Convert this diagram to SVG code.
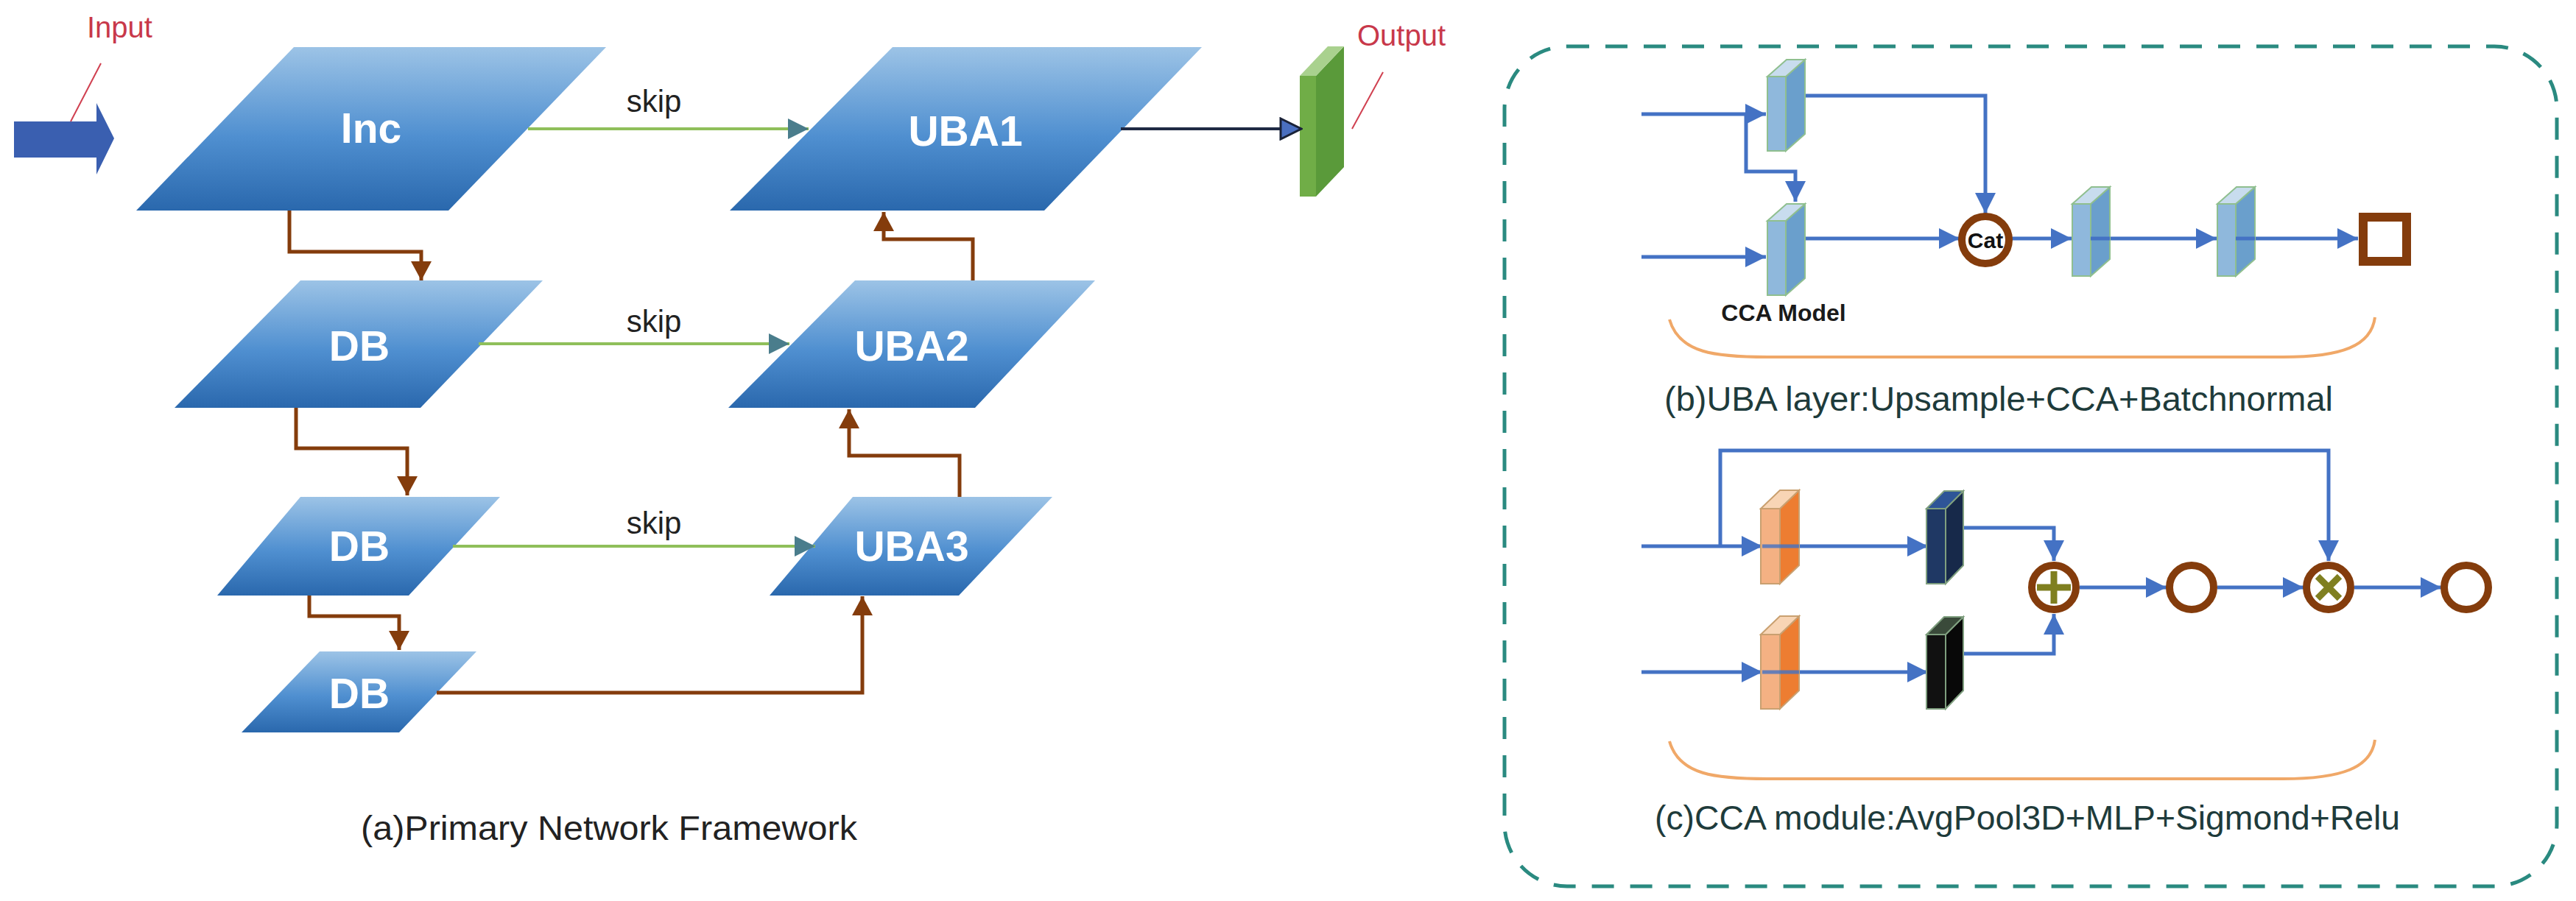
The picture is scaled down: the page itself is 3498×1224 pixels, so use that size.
<svg xmlns="http://www.w3.org/2000/svg" width="3498" height="1224" viewBox="0 0 3498 1224">
<defs>
<linearGradient id="pg" x1="0" y1="0" x2="0" y2="1"><stop offset="0" stop-color="#9cc3e6"/><stop offset="0.55" stop-color="#4f8fd0"/><stop offset="1" stop-color="#2a68ad"/></linearGradient>
<marker id="mb" markerUnits="userSpaceOnUse" markerWidth="26" markerHeight="28" refX="26" refY="14" orient="auto"><path d="M0,0 L26,14 L0,28 z" fill="#843c0c"/></marker>
<marker id="ms" markerUnits="userSpaceOnUse" markerWidth="28" markerHeight="28" refX="28" refY="14" orient="auto"><path d="M0,0 L28,14 L0,28 z" fill="#4a7d8c"/></marker>
<marker id="mo" markerUnits="userSpaceOnUse" markerWidth="32" markerHeight="32" refX="30" refY="16" orient="auto"><path d="M2,2 L30,16 L2,30 z" fill="#4a6fc0" stroke="#1a2238" stroke-width="3"/></marker>
<marker id="ml" markerUnits="userSpaceOnUse" markerWidth="28" markerHeight="28" refX="28" refY="14" orient="auto"><path d="M0,0 L28,14 L0,28 z" fill="#4472c4"/></marker>
</defs>
<style>
.pl{fill:url(#pg);}
.nt{font-family:"Liberation Sans",Arial,sans-serif;font-weight:bold;font-size:57px;fill:#fff;text-anchor:middle;}
.sk{font-family:"Liberation Sans",Arial,sans-serif;font-size:42px;fill:#222;text-anchor:middle;}
.cap{font-family:"Liberation Sans",Arial,sans-serif;font-size:46px;}
.red{font-family:"Liberation Sans",Arial,sans-serif;font-size:40px;fill:#c8384a;}
.br{fill:none;stroke:#843c0c;stroke-width:5;marker-end:url(#mb);}
.sl{fill:none;stroke:#8fbf5a;stroke-width:4;marker-end:url(#ms);}
.bl{fill:none;stroke:#4472c4;stroke-width:5;marker-end:url(#ml);}
.ring{fill:#fff;stroke:#843c0c;stroke-width:10;}
.brace{fill:none;stroke:#f0a868;stroke-width:4;}
.lbF{fill:#8fb8dc;stroke:#8fbf8f;stroke-width:2;}
.lbS{fill:#6a9fcc;stroke:#8fbf8f;stroke-width:2;}
.lbT{fill:#c8dcee;stroke:#8fbf8f;stroke-width:2;}
</style>

<g id="input">
<polygon points="19,165 131,165 131,140 155,188 131,237 131,214 19,214" fill="#3a5fb0"/>
<line x1="137" y1="86" x2="96" y2="165" stroke="#d04050" stroke-width="2"/>
<text class="red" x="118" y="51">Input</text>
</g>

<g id="inc"><polygon class="pl" points="399,64 823,64 609,286 185,286"/><text class="nt" x="504" y="194">Inc</text></g>
<g id="uba1"><polygon class="pl" points="1212,64 1632,64 1418,286 991,286"/><text class="nt" x="1311" y="198">UBA1</text></g>
<g id="db1"><polygon class="pl" points="408,381 737,381 571,554 237,554"/><text class="nt" x="488" y="490">DB</text></g>
<g id="uba2"><polygon class="pl" points="1161,381 1487,381 1324,554 989,554"/><text class="nt" x="1238" y="490">UBA2</text></g>
<g id="db2"><polygon class="pl" points="408,675 679,675 555,809 295,809"/><text class="nt" x="488" y="762">DB</text></g>
<g id="uba3"><polygon class="pl" points="1158,675 1429,675 1302,809 1045,809"/><text class="nt" x="1238" y="762">UBA3</text></g>
<g id="db3"><polygon class="pl" points="434,885 647,885 542,995 328,995"/><text class="nt" x="488" y="962">DB</text></g>

<g id="output">
<rect x="1765" y="103" width="22" height="164" fill="#70ad47"/>
<polygon points="1787,103 1825,63 1825,227 1787,267" fill="#5a9a3a"/>
<polygon points="1765,103 1803,63 1825,63 1787,103" fill="#a9d18e"/>
<line x1="1878" y1="98" x2="1836" y2="175" stroke="#d04050" stroke-width="2"/>
<text class="red" x="1843" y="62">Output</text>
</g>

<g id="connectors-a">
<path class="br" d="M393,286 V342 H572 V381"/>
<path class="br" d="M402,554 V609 H553 V673"/>
<path class="br" d="M420,809 V837 H542 V883"/>
<path class="br" d="M593,941 H1171 V810"/>
<path class="br" d="M1303,675 V619 H1153 V556"/>
<path class="br" d="M1321,381 V325 H1200 V288"/>
<path class="sl" d="M717,175 H1098"/>
<path class="sl" d="M650,467 H1072"/>
<path class="sl" d="M615,742 H1107"/>
<path d="M1522,175 H1767" fill="none" stroke="#1f2a44" stroke-width="4" marker-end="url(#mo)"/>
<text class="sk" x="888" y="152">skip</text>
<text class="sk" x="888" y="451">skip</text>
<text class="sk" x="888" y="725">skip</text>
</g>
<text class="cap" x="490" y="1141" font-size="50" fill="#222" textLength="674" lengthAdjust="spacingAndGlyphs">(a)Primary Network Framework</text>

<rect id="panel" x="2043" y="63" width="1429" height="1141" rx="85" fill="none" stroke="#2a8a80" stroke-width="5" stroke-dasharray="30 22"/>

<g id="connectors-b">
<path class="bl" d="M2229,155 H2398"/>
<path class="bl" d="M2371,155 V233 H2438 V274"/>
<path class="bl" d="M2450,130 H2696 V290"/>
<path class="bl" d="M2229,349 H2398"/>
<path class="bl" d="M2450,324 H2661"/>
<path class="bl" d="M2731,324 H2813"/>
<path class="bl" d="M2839,324 H3010"/>
<path class="bl" d="M3037,324 H3202"/>
</g>
<g id="b-blocks">
<g id="b1"><rect class="lbF" x="2400" y="104" width="25" height="101"/><polygon class="lbS" points="2425,104 2451,81 2451,182 2425,205"/><polygon class="lbT" points="2400,104 2426,81 2451,81 2425,104"/></g>
<g id="b2"><rect class="lbF" x="2400" y="300" width="25" height="101"/><polygon class="lbS" points="2425,300 2451,277 2451,378 2425,401"/><polygon class="lbT" points="2400,300 2426,277 2451,277 2425,300"/></g>
<g id="b3"><rect class="lbF" x="2814" y="277" width="25" height="98"/><polygon class="lbS" points="2839,277 2865,254 2865,352 2839,375"/><polygon class="lbT" points="2814,277 2840,254 2865,254 2839,277"/></g>
<g id="b4"><rect class="lbF" x="3011" y="277" width="25" height="98"/><polygon class="lbS" points="3036,277 3062,254 3062,352 3036,375"/><polygon class="lbT" points="3011,277 3037,254 3062,254 3036,277"/></g>
<line x1="2839" y1="324" x2="2865" y2="324" stroke="#4472c4" stroke-width="5"/>
<line x1="3036" y1="324" x2="3062" y2="324" stroke="#4472c4" stroke-width="5"/>
<g id="cat"><circle class="ring" cx="2696" cy="326" r="32"/><text x="2696" y="337" font-family="Liberation Sans,Arial,sans-serif" font-weight="bold" font-size="30" fill="#111" text-anchor="middle">Cat</text></g>
<rect id="outsq" x="3209" y="295" width="59" height="60" fill="#fff" stroke="#843c0c" stroke-width="12"/>
<text x="2422" y="436" font-family="Liberation Sans,Arial,sans-serif" font-weight="bold" font-size="32" fill="#1a1a1a" text-anchor="middle">CCA Model</text>
</g>
<path class="brace" d="M2267,434 C2280,480 2330,485 2400,485 H3100 C3180,485 3220,470 3225,431"/>
<text class="cap" x="2260" y="558" fill="#1e3b3b" textLength="908" lengthAdjust="spacingAndGlyphs">(b)UBA layer:Upsample+CCA+Batchnormal</text>

<g id="connectors-c">
<path class="bl" d="M2336,742 V612 H3162 V762"/>
<path class="bl" d="M2229,742 H2393"/>
<path class="bl" d="M2229,913 H2393"/>
<path class="bl" d="M2417,742 H2618"/>
<path class="bl" d="M2417,913 H2618"/>
<path class="bl" d="M2665,717 H2789 V762"/>
<path class="bl" d="M2665,888 H2789 V834"/>
<path class="bl" d="M2824,798 H2942"/>
<path class="bl" d="M3011,798 H3128"/>
<path class="bl" d="M3197,798 H3315"/>
</g>
<g id="c-blocks">
<g id="o1"><rect x="2391" y="691" width="26" height="102" fill="#f4b183" stroke="#c9a070" stroke-width="2"/><polygon points="2417,691 2443,666 2443,768 2417,793" fill="#ed7d31" stroke="#c9a070" stroke-width="2"/><polygon points="2391,691 2417,666 2443,666 2417,691" fill="#f8d5b5" stroke="#c9a070" stroke-width="2"/></g>
<g id="o2"><rect x="2391" y="862" width="26" height="101" fill="#f4b183" stroke="#c9a070" stroke-width="2"/><polygon points="2417,862 2443,837 2443,938 2417,963" fill="#ed7d31" stroke="#c9a070" stroke-width="2"/><polygon points="2391,862 2417,837 2443,837 2417,862" fill="#f8d5b5" stroke="#c9a070" stroke-width="2"/></g>
<g id="n1"><rect x="2616" y="691" width="26" height="102" fill="#1f3864" stroke="#7f9f7f" stroke-width="2"/><polygon points="2642,691 2666,667 2666,768 2642,793" fill="#17294a" stroke="#7f9f7f" stroke-width="2"/><polygon points="2616,691 2640,667 2666,667 2642,691" fill="#2e5597" stroke="#7f9f7f" stroke-width="2"/></g>
<g id="k1"><rect x="2616" y="862" width="26" height="101" fill="#111" stroke="#7f9f7f" stroke-width="2"/><polygon points="2642,862 2666,838 2666,938 2642,963" fill="#080808" stroke="#7f9f7f" stroke-width="2"/><polygon points="2616,862 2640,838 2666,838 2642,862" fill="#3a4a3a" stroke="#7f9f7f" stroke-width="2"/></g>
<line x1="2393" y1="742" x2="2443" y2="742" stroke="#4472c4" stroke-width="5" opacity="0.8"/>
<line x1="2393" y1="913" x2="2443" y2="913" stroke="#4472c4" stroke-width="5" opacity="0.8"/>
<g id="plus"><circle class="ring" cx="2789" cy="798" r="30"/><path d="M2766,798 H2812 M2789,776 V820" stroke="#7f7f20" stroke-width="9"/></g>
<g id="sig"><circle class="ring" cx="2976" cy="798" r="30"/></g>
<g id="times"><circle class="ring" cx="3162" cy="798" r="30"/><path d="M3147,783 L3177,813 M3177,783 L3147,813" stroke="#7f7f20" stroke-width="9"/></g>
<g id="relu"><circle class="ring" cx="3349" cy="798" r="30"/></g>
</g>
<path class="brace" d="M2267,1007 C2280,1053 2330,1058 2400,1058 H3100 C3180,1058 3220,1043 3225,1005"/>
<text class="cap" x="2247" y="1127" fill="#1e3b3b" textLength="1012" lengthAdjust="spacingAndGlyphs">(c)CCA module:AvgPool3D+MLP+Sigmond+Relu</text>
</svg>
